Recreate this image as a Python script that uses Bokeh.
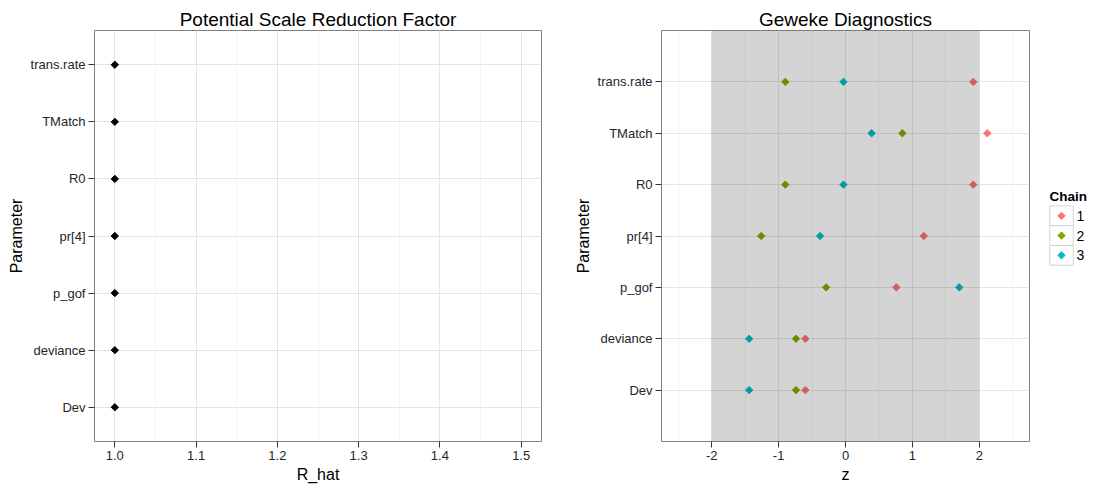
import numpy as np
from bokeh.plotting import figure
from bokeh.models import Range1d, FixedTicker, BoxAnnotation, NumeralTickFormatter
from bokeh.layouts import row
from bokeh.embed import file_html
from bokeh.resources import INLINE
from bokeh.core.properties import value

FONT = "Liberation Sans"

# MCMC convergence diagnostics per monitored parameter (bottom to top)
parameters = ["Dev", "deviance", "p_gof", "pr[4]", "R0", "TMatch", "trans.rate"]
r_hat = [1.00, 1.00, 1.00, 1.00, 1.00, 1.00, 1.00]

chains = ["1", "2", "3"]
z_chain1 = [-0.60, -0.60, 0.76, 1.17, 1.91, 2.12, 1.91]
z_chain2 = [-0.74, -0.74, -0.29, -1.26, -0.90, 0.85, -0.90]
z_chain3 = [-1.44, -1.44, 1.70, -0.38, -0.03, 0.39, -0.03]
chain_colors = ["#F8766D", "#7CAE00", "#00BFC4"]

rhat_ticks = [1.0, 1.1, 1.2, 1.3, 1.4, 1.5]
rhat_minor = [1.05, 1.15, 1.25, 1.35, 1.45]
z_ticks = [-2, -1, 0, 1, 2]
z_minor = [-2.5, -1.5, -0.5, 0.5, 1.5, 2.5]
z_band = (-2, 2)

y_pos = list(range(1, len(parameters) + 1))


def style_panel(p, xticks, xminor, xlabel, title):
    p.background_fill_color = "white"
    p.border_fill_color = "white"
    p.outline_line_color = "#7f7f7f"
    p.outline_line_width = 1

    p.title.text = title
    p.title.align = "center"
    p.title.text_font = FONT
    p.title.text_font_size = "19px"
    p.title.text_font_style = "normal"
    p.title.text_color = "#000000"
    p.title.standoff = 2
    p.title.offset = 0

    p.xaxis.ticker = FixedTicker(ticks=xticks, minor_ticks=xminor)
    p.yaxis.ticker = FixedTicker(ticks=y_pos)
    p.yaxis.major_label_overrides = {i: name for i, name in zip(y_pos, parameters)}

    for ax in (p.xaxis[0], p.yaxis[0]):
        ax.axis_line_color = None
        ax.major_tick_in = 0
        ax.major_tick_out = 6
        ax.major_tick_line_color = "#333333"
        ax.minor_tick_line_color = None
        ax.major_label_text_font = FONT
        ax.major_label_text_font_size = "13px"
        ax.major_label_text_color = "#262626"
        ax.major_label_standoff = 3
        ax.axis_label_text_font = FONT
        ax.axis_label_text_font_size = "16px"
        ax.axis_label_text_font_style = "normal"
        ax.axis_label_text_color = "#000000"
        ax.axis_label_standoff = 3

    p.xaxis.axis_label = xlabel
    p.yaxis.axis_label = "Parameter"

    p.xgrid.grid_line_color = "#e5e5e5"
    p.xgrid.minor_grid_line_color = "#f2f2f2"
    p.ygrid.grid_line_color = "#e5e5e5"
    return p


# --- Potential scale reduction factor ---
p1 = figure(width=560, height=489, output_backend="svg", toolbar_location=None,
            x_range=Range1d(0.975, 1.525), y_range=Range1d(0.4, 7.6),
            min_border_left=94, min_border_right=19,
            min_border_top=30, min_border_bottom=48)
p1.scatter(r_hat, y_pos, marker="square", angle=np.pi / 4, size=5.2,
           fill_color="black", line_color="black")
style_panel(p1, rhat_ticks, rhat_minor, "R_hat", "Potential Scale Reduction Factor")
p1.xaxis.formatter = NumeralTickFormatter(format="0.0")

# --- Geweke diagnostics ---
p2 = figure(width=471, height=489, output_backend="svg", toolbar_location=None,
            x_range=Range1d(-2.75, 2.75), y_range=Range1d(0, 8),
            min_border_left=101, min_border_right=2,
            min_border_top=30, min_border_bottom=48)
for zs, col in zip([z_chain1, z_chain2, z_chain3], chain_colors):
    p2.scatter(zs, y_pos, marker="square", angle=np.pi / 4, size=5.2,
               fill_color=col, line_color=col)
p2.add_layout(BoxAnnotation(left=z_band[0], right=z_band[1],
                            fill_color="black", fill_alpha=0.17, line_color=None))
style_panel(p2, z_ticks, z_minor, "z", "Geweke Diagnostics")
p2.xaxis.major_label_overrides = {t: str(t) for t in z_ticks}

# --- legend panel ---
p3 = figure(width=62, height=489, output_backend="svg", toolbar_location=None,
            x_range=Range1d(1031, 1093), y_range=Range1d(489, 0),
            min_border=0)
p3.axis.visible = False
p3.grid.visible = False
p3.outline_line_color = None
key_y = [220.5, 244.0, 267.5]
p3.rect(x=[1061] * 3, y=key_y, width=23.5, height=23.5,
        fill_color="white", line_color="#d4d4d4", line_width=1)
p3.scatter(x=[1061] * 3, y=key_y, marker="square", angle=np.pi / 4, size=5.2,
           fill_color=chain_colors, line_color=chain_colors)
p3.text(x=[1076] * 3, y=key_y, text=chains, text_font=value(FONT),
        text_font_size="14px", text_baseline="middle", text_align="left",
        text_color="#000000")
p3.text(x=[1049], y=[198], text=["Chain"], text_font=value(FONT),
        text_font_size="13.5px", text_font_style="bold",
        text_baseline="middle", text_align="left", text_color="#000000")

layout = row(p1, p2, p3, spacing=0)
open("out.html", "w").write(file_html(layout, INLINE))
